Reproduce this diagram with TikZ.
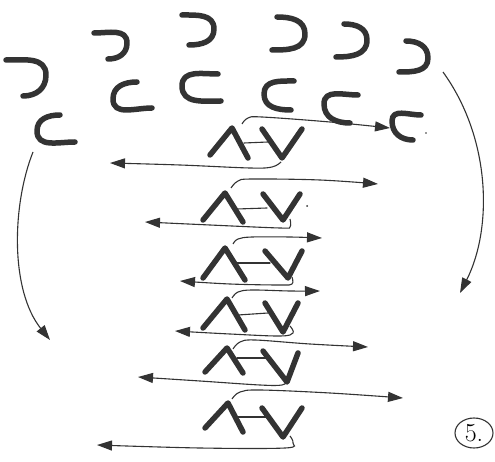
\documentclass[tikz,border=0pt]{standalone}
\usetikzlibrary{arrows.meta,shapes.geometric}
\definecolor{ink}{HTML}{333333}
\tikzset{
  heavy/.style={line width=5.5pt,draw=ink,line cap=round,line join=round},
  thinarr/.style={line width=1.1pt,draw=ink,-{Triangle[length=15pt,width=10pt,fill=ink]}},
  tie/.style={line width=1.1pt,draw=ink,line cap=round},
}
\newcommand{\rcup}[3]{\draw[heavy] #1 to[out=0,in=90,looseness=1.1] #2 to[out=-90,in=0,looseness=1.1] #3;}
\newcommand{\lcup}[3]{\draw[heavy] #1 to[out=180,in=90,looseness=1.1] #2 to[out=-90,in=180,looseness=1.1] #3;}
\begin{document}
\begin{tikzpicture}[x=1pt,y=-1pt]
\useasboundingbox (0,0) rectangle (495,462);
\fill[white] (0,0) rectangle (495,462);
% top row
\rcup{(6,60)}{(46,75)}{(23,96)}
\rcup{(94,33)}{(127,43)}{(108,59)}
\rcup{(182,15)}{(214,29)}{(189,45)}
\rcup{(277,17)}{(305,34)}{(272,50)}
\rcup{(344,24)}{(367,40)}{(336,57)}
\rcup{(406,41)}{(428,58)}{(399,72)}
% second row
\lcup{(60,115)}{(37,131)}{(75,142)}
\lcup{(137,82)}{(113,99)}{(152,108)}
\lcup{(218,74)}{(182,86)}{(221,101)}
\lcup{(294,81)}{(264,94)}{(291,110)}
\lcup{(358,95)}{(324,104)}{(350,123)}
\lcup{(421,115)}{(392,121)}{(413,140)}
% Lambda-V pairs
\draw[heavy] (210,155)--(232,128)--(248,158);
\draw[heavy] (262,129)--(282,158)--(302,129);
\draw[tie] (244,143)--(268,142);
\draw[heavy] (203,220)--(225,193)--(243,222);
\draw[heavy] (263,194)--(283,220)--(300,194);
\draw[tie] (237,209)--(267,208);
\draw[heavy] (203,278)--(225,248)--(245,280);
\draw[heavy] (265,251)--(288,278)--(302,251);
\draw[tie] (237,263)--(270,263);
\draw[heavy] (203,328)--(227,299)--(245,330);
\draw[heavy] (265,303)--(283,332)--(298,303);
\draw[tie] (238,315)--(268,313);
\draw[heavy] (205,372)--(227,348)--(243,373);
\draw[heavy] (263,351)--(287,382)--(298,353);
\draw[tie] (237,358)--(267,358);
\draw[heavy] (205,428)--(228,403)--(243,432);
\draw[heavy] (262,408)--(283,437)--(302,408);
\draw[tie] (238,417)--(267,417);
% zigzag arrows
\draw[thinarr] plot[smooth,tension=0.6] coordinates {(242,124) (248,118) (262,117) (330,122) (390,128)};
\draw[thinarr] plot[smooth,tension=0.6] coordinates {(281,162) (272,167) (250,168) (180,165) (110,163)};
\draw[thinarr] plot[smooth,tension=0.6] coordinates {(231,188) (238,181) (252,179) (320,180) (378,184)};
\draw[thinarr] plot[smooth,tension=0.6] coordinates {(290,219) (290,227) (280,228) (210,225) (145,222)};
\draw[thinarr] plot[smooth,tension=0.6] coordinates {(233,244) (238,239) (252,237) (290,237) (322,238)};
\draw[thinarr] plot[smooth,tension=0.6] coordinates {(292,277) (292,284) (280,285) (230,284) (180,281)};
\draw[thinarr] plot[smooth,tension=0.6] coordinates {(232,298) (238,292) (252,290) (290,291) (320,291)};
\draw[thinarr] plot[smooth,tension=0.6] coordinates {(290,326) (293,333) (280,336) (230,334) (175,331)};
\draw[thinarr] plot[smooth,tension=0.6] coordinates {(233,349) (240,342) (255,340) (310,344) (368,347)};
\draw[thinarr] plot[smooth,tension=0.6] coordinates {(287,381) (282,385) (260,385) (200,381) (138,377)};
\draw[thinarr] plot[smooth,tension=0.6] coordinates {(232,399) (240,392) (260,390) (330,393) (403,398)};
\draw[thinarr] plot[smooth,tension=0.6] coordinates {(290,436) (293,443) (285,448) (200,448) (97,445)};
% side arrows
\coordinate (ls) at (33,152); \coordinate (le) at (50,340);
\coordinate (rs) at (443,72); \coordinate (re) at (460,293);
\draw[thinarr] (ls) .. controls (12,205) and (10,290) .. (le);
\draw[thinarr] (rs) .. controls (492,140) and (492,230) .. (re);
% stray dots
\fill[ink] (307,206) circle (1pt);
\fill[ink] (426,133) circle (0.8pt);
% label
\node[draw=ink,line width=1.1pt,ellipse,minimum width=38pt,minimum height=30pt,inner sep=0pt,font=\fontsize{26}{26}\selectfont] (lbl) at (474,433) {5.};
\end{tikzpicture}
\end{document}
